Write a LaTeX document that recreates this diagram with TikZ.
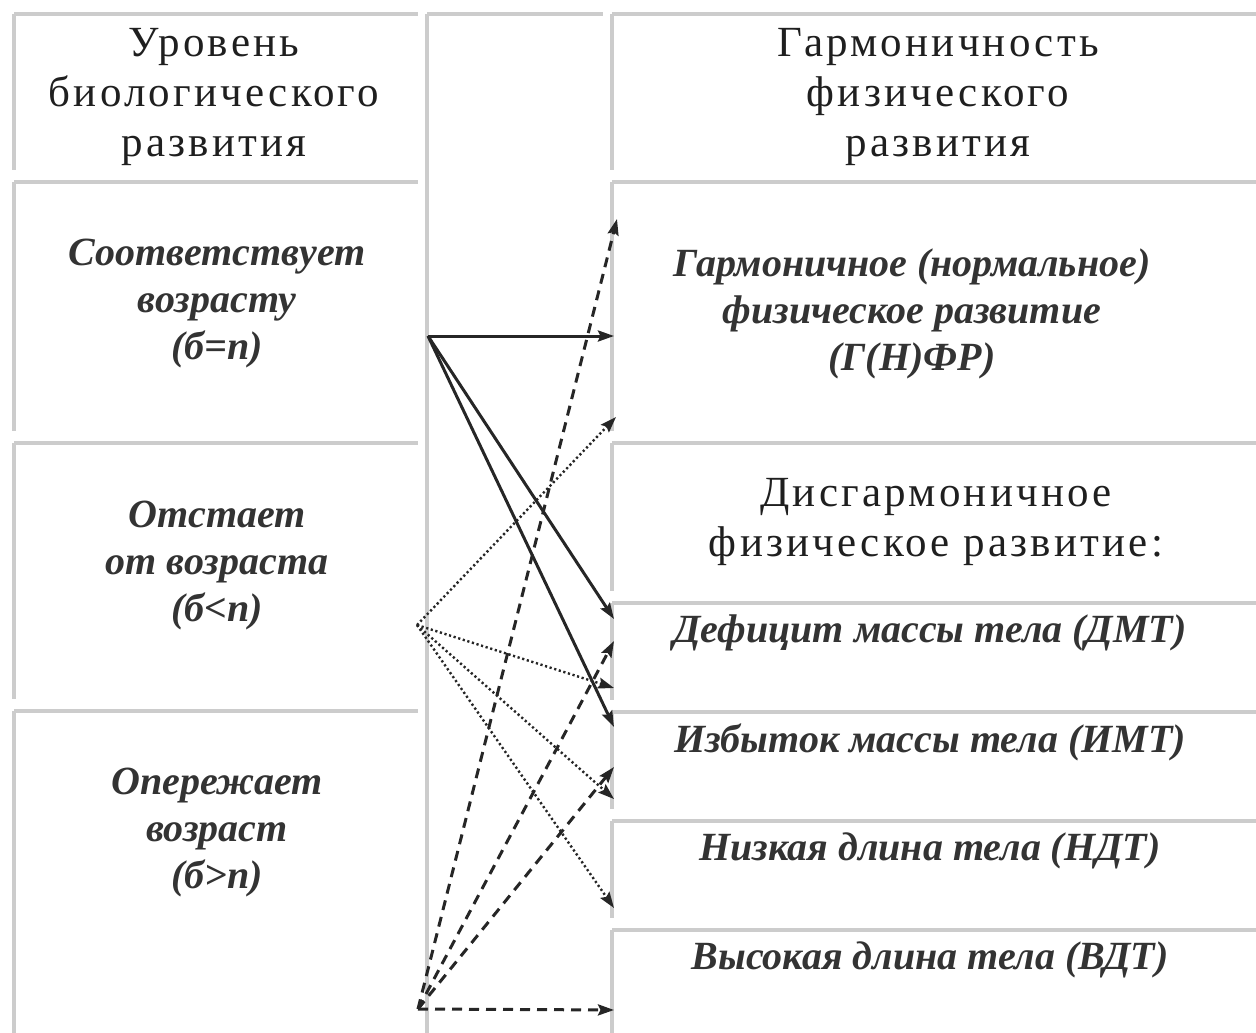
\documentclass[tikz,border=0pt]{standalone}
\usepackage{fontspec}
\setmainfont{Liberation Serif}
\newfontfamily\spacedserif[LetterSpace=7.5]{Liberation Serif}
\usetikzlibrary{arrows.meta}
\usetikzlibrary{positioning}
\tikzset{
  cellrule/.style={draw=black!20, line width=3.5pt},
  headtext/.style={align=center, text=black!88,
    font=\spacedserif\fontsize{43}{50}\selectfont},
  itemtext/.style={align=center, text=black!80,
    font=\bfseries\itshape\fontsize{40}{47}\selectfont},
  solidlink/.style={line width=3pt},
  dottedlink/.style={line width=2.4pt, dash pattern=on 2.2pt off 2.6pt},
  dashedlink/.style={line width=3pt, dash pattern=on 10pt off 7pt}
}

\begin{document}
\begin{tikzpicture}[->,>={Stealth[length=16pt,width=11pt,inset=2.5pt]},
      x=1pt, y=-1pt,
      node distance=109pt,
      on grid,
      draw=black!85]

    \useasboundingbox (0,0) rectangle (1256,1033);

    \draw[cellrule,-] (14,14) -- (418,14) (14,14) -- (14,170)
      (14,182) -- (418,182) (14,182) -- (14,431)
      (14,443) -- (418,443) (14,443) -- (14,699)
      (14,711) -- (418,711) (14,711) -- (14,1033);
    \draw[cellrule,-] (427,14) -- (603,14) (427,14) -- (427,1033);
    \draw[cellrule,-] (612,14) -- (1256,14) (612,14) -- (612,170)
      (612,182) -- (1256,182) (612,182) -- (612,431)
      (612,443) -- (1256,443) (612,443) -- (612,591)
      (612,603) -- (1256,603) (612,603) -- (612,700)
      (612,712) -- (1256,712) (612,712) -- (612,809)
      (612,821) -- (1256,821) (612,821) -- (612,918)
      (612,930) -- (1256,930) (612,930) -- (612,1033);

    \node[headtext]
      (LevelHead) at (214,97) {Уровень\\биологического\\развития};
    \node[headtext]
      (HarmonyHead) at (938,97) {Гармоничность\\физического\\развития};
    \node[itemtext]
      (AgeEqual) at (217,304) {Соответствует\\возрасту\\(б=п)};
    \node[itemtext]
      (AgeBehind) [below=262pt of AgeEqual] {Отстает\\от возраста\\(б<п)};
    \node[itemtext]
      (AgeAhead) [below=267pt of AgeBehind] {Опережает\\возраст\\(б>п)};
    \node[itemtext]
      (Harmonic) at (912,314) {Гармоничное (нормальное)\\физическое развитие\\(Г(Н)ФР)};
    \node[headtext]
      (Disharmonic) at (936,522) {Дисгармоничное\\физическое развитие:};
    \node[itemtext]
      (MassLow) at (930,633) {Дефицит массы тела (ДМТ)};
    \node[itemtext]
      (MassHigh) [below=of MassLow] {Избыток массы тела (ИМТ)};
    \node[itemtext]
      (LengthLow) [below=of MassHigh] {Низкая длина тела (НДТ)};
    \node[itemtext]
      (LengthHigh) [below=of LengthLow] {Высокая длина тела (ВДТ)};

    \coordinate (FromEqual) at (428,336);
    \coordinate (FromBehind) at (417,625);
    \coordinate (FromAhead) at (418,1009);
    \coordinate (HarmonicA) at (617,219);
    \coordinate (HarmonicB) at (614,336);
    \coordinate (HarmonicC) at (616,417);
    \coordinate (MassLowA) at (614,619);
    \coordinate (MassLowB) at (614,641);
    \coordinate (MassLowC) at (614,688);
    \coordinate (MassHighA) at (614,727);
    \coordinate (MassHighB) at (614,767);
    \coordinate (MassHighC) at (614,799);
    \coordinate (LengthLowIn) at (614,908);
    \coordinate (LengthHighIn) at (614,1010);

    \path[solidlink]
      (FromEqual) edge (HarmonicB)
      (FromEqual) edge (MassLowA)
      (FromEqual) edge (MassHighA);
    \path[dottedlink]
      (FromBehind) edge (HarmonicC)
      (FromBehind) edge (MassLowC)
      (FromBehind) edge (MassHighC)
      (FromBehind) edge (LengthLowIn);
    \path[dashedlink]
      (FromAhead) edge (HarmonicA)
      (FromAhead) edge (MassLowB)
      (FromAhead) edge (MassHighB)
      (FromAhead) edge (LengthHighIn);

  \end{tikzpicture}
\end{document}
